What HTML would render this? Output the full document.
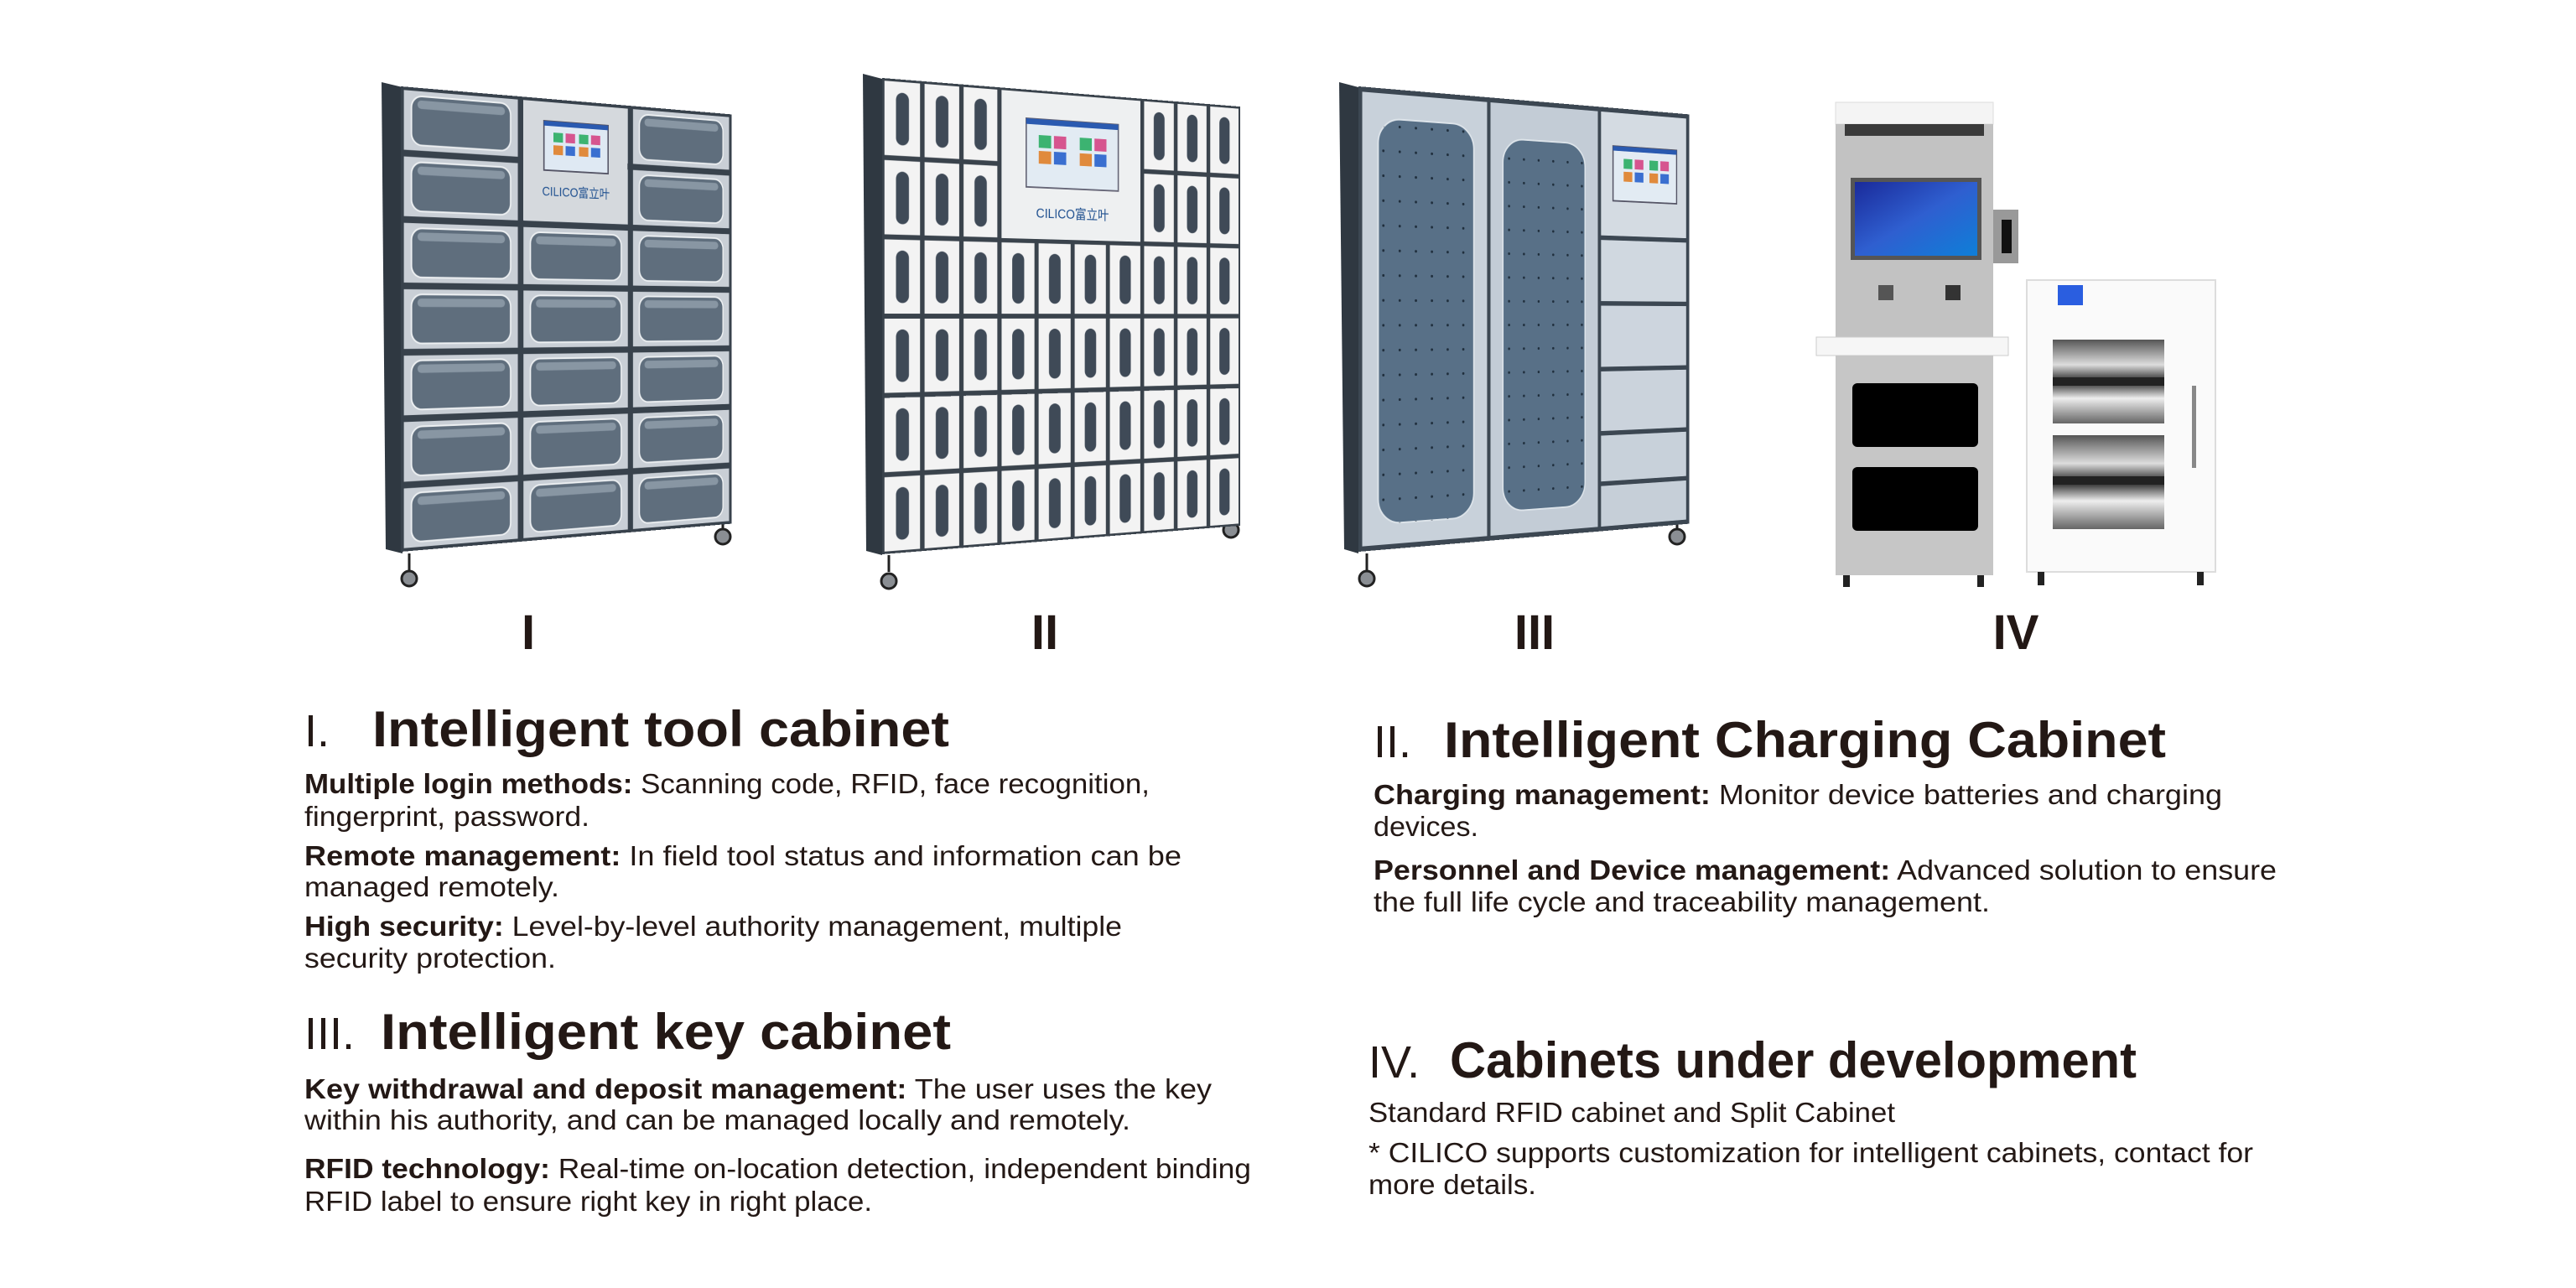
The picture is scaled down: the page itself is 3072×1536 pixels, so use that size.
<!DOCTYPE html>
<html><head><meta charset="utf-8">
<style>
html,body{margin:0;padding:0;background:#fff;}
body{width:3072px;height:1536px;position:relative;overflow:hidden;}
.cab{position:absolute;transform-origin:0 50%;}
svg text{font-family:"Liberation Sans","Noto Sans CJK SC",sans-serif;fill:#231815;}
</style></head><body>

<svg width="3072" height="1536" style="position:absolute;left:0;top:0" xmlns="http://www.w3.org/2000/svg">
<defs>
<linearGradient id="noise" x1="0" y1="0" x2="0" y2="1">
<stop offset="0" stop-color="#555"/><stop offset=".3" stop-color="#ddd"/><stop offset=".5" stop-color="#222"/><stop offset=".7" stop-color="#eee"/><stop offset="1" stop-color="#666"/>
</linearGradient>
<linearGradient id="scr" x1="0" y1="0" x2="1" y2="1">
<stop offset="0" stop-color="#1a2a9a"/><stop offset=".5" stop-color="#2f5fd0"/><stop offset="1" stop-color="#0e7fd8"/>
</linearGradient>
</defs>
<polygon points="455,98 480,104 480,660 460,655" fill="#2f3841"/>
<polygon points="1029,88 1052,94 1052,662 1033,657" fill="#2f3841"/>
<polygon points="1597,98 1620,104 1620,660 1603,655" fill="#2f3841"/>
<g fill="#8a8e93" stroke="#222" stroke-width="3">
<line x1="488" y1="660" x2="488" y2="680"/><circle cx="488" cy="690" r="9"/>
<line x1="862" y1="625" x2="862" y2="632"/><circle cx="862" cy="640" r="9"/>
<line x1="1060" y1="662" x2="1060" y2="682"/><circle cx="1060" cy="693" r="9"/>
<line x1="1468" y1="622" x2="1468" y2="625"/><circle cx="1468" cy="632" r="9"/>
<line x1="1630" y1="660" x2="1630" y2="680"/><circle cx="1630" cy="690" r="9"/>
<line x1="2000" y1="625" x2="2000" y2="632"/><circle cx="2000" cy="640" r="9"/>
</g>

<rect x="2189" y="122" width="188" height="26" fill="#f4f4f4" stroke="#ddd"/>
<rect x="2189" y="148" width="188" height="256" fill="#c2c2c2"/>
<rect x="2200" y="148" width="166" height="14" fill="#3a3a3a"/>
<rect x="2207" y="212" width="156" height="98" fill="#555"/>
<rect x="2212" y="217" width="146" height="88" fill="url(#scr)"/>
<rect x="2240" y="340" width="18" height="18" fill="#555"/>
<rect x="2320" y="340" width="18" height="18" fill="#333"/>
<rect x="2377" y="250" width="30" height="64" fill="#999"/>
<rect x="2387" y="262" width="12" height="40" fill="#111"/>
<rect x="2166" y="402" width="229" height="22" fill="#f6f6f6" stroke="#ccc"/>
<rect x="2189" y="424" width="188" height="262" fill="#c6c6c6"/>
<rect x="2209" y="457" width="150" height="76" rx="6" fill="#000"/>
<rect x="2209" y="557" width="150" height="76" rx="6" fill="#000"/>
<g fill="#222"><rect x="2198" y="686" width="8" height="14"/><rect x="2358" y="686" width="8" height="14"/></g>
<rect x="2417" y="334" width="225" height="348" fill="#fafafa" stroke="#ddd" stroke-width="2"/>
<rect x="2454" y="340" width="30" height="24" fill="#2a5ee0"/>
<rect x="2448" y="405" width="133" height="100" fill="url(#noise)"/>
<rect x="2448" y="450" width="133" height="10" fill="#222"/>
<rect x="2448" y="519" width="133" height="112" fill="url(#noise)"/>
<rect x="2448" y="568" width="133" height="10" fill="#222"/>
<rect x="2614" y="460" width="5" height="98" fill="#888"/>
<g fill="#222"><rect x="2430" y="682" width="8" height="16"/><rect x="2620" y="682" width="8" height="16"/></g>

<g font-size="58" font-weight="bold" text-anchor="middle">
<text x="630" y="774">I</text>
<text x="1246" y="774">II</text>
<text x="1830" y="774">III</text>
<text x="2404" y="774">IV</text>
</g>

<text x="363" y="890" font-size="54">I.</text>
<text x="444" y="890" font-size="60" font-weight="bold" textLength="688" lengthAdjust="spacingAndGlyphs">Intelligent tool cabinet</text>
<g font-size="33">
<text x="363" y="946" textLength="1008" lengthAdjust="spacingAndGlyphs"><tspan font-weight="bold">Multiple login methods:</tspan> Scanning code, RFID, face recognition,</text>
<text x="363" y="985" textLength="340" lengthAdjust="spacingAndGlyphs">fingerprint, password.</text>
<text x="363" y="1032" textLength="1046" lengthAdjust="spacingAndGlyphs"><tspan font-weight="bold">Remote management:</tspan> In field tool status and information can be</text>
<text x="363" y="1069" textLength="304" lengthAdjust="spacingAndGlyphs">managed remotely.</text>
<text x="363" y="1116" textLength="975" lengthAdjust="spacingAndGlyphs"><tspan font-weight="bold">High security:</tspan> Level-by-level authority management, multiple</text>
<text x="363" y="1154" textLength="300" lengthAdjust="spacingAndGlyphs">security protection.</text>
</g>

<text x="363" y="1251" font-size="54">III.</text>
<text x="454" y="1251" font-size="60" font-weight="bold" textLength="680" lengthAdjust="spacingAndGlyphs">Intelligent key cabinet</text>
<g font-size="33">
<text x="363" y="1310" textLength="1082" lengthAdjust="spacingAndGlyphs"><tspan font-weight="bold">Key withdrawal and deposit management:</tspan> The user uses the key</text>
<text x="363" y="1347" textLength="985" lengthAdjust="spacingAndGlyphs">within his authority, and can be managed locally and remotely.</text>
<text x="363" y="1405" textLength="1129" lengthAdjust="spacingAndGlyphs"><tspan font-weight="bold">RFID technology:</tspan> Real-time on-location detection, independent binding</text>
<text x="363" y="1444" textLength="677" lengthAdjust="spacingAndGlyphs">RFID label to ensure right key in right place.</text>
</g>

<text x="1638" y="903" font-size="54">II.</text>
<text x="1722" y="903" font-size="60" font-weight="bold" textLength="861" lengthAdjust="spacingAndGlyphs">Intelligent Charging Cabinet</text>
<g font-size="33">
<text x="1638" y="959" textLength="1012" lengthAdjust="spacingAndGlyphs"><tspan font-weight="bold">Charging management:</tspan> Monitor device batteries and charging</text>
<text x="1638" y="997" textLength="125" lengthAdjust="spacingAndGlyphs">devices.</text>
<text x="1638" y="1049" textLength="1077" lengthAdjust="spacingAndGlyphs"><tspan font-weight="bold">Personnel and Device management:</tspan> Advanced solution to ensure</text>
<text x="1638" y="1087" textLength="735" lengthAdjust="spacingAndGlyphs">the full life cycle and traceability management.</text>
</g>

<text x="1632" y="1285" font-size="54">IV.</text>
<text x="1729" y="1285" font-size="60" font-weight="bold" textLength="819" lengthAdjust="spacingAndGlyphs">Cabinets under development</text>
<g font-size="33">
<text x="1632" y="1338" textLength="628" lengthAdjust="spacingAndGlyphs">Standard RFID cabinet and Split Cabinet</text>
<text x="1632" y="1386" textLength="1055" lengthAdjust="spacingAndGlyphs">* CILICO supports customization for intelligent cabinets, contact for</text>
<text x="1632" y="1424" textLength="200" lengthAdjust="spacingAndGlyphs">more details.</text>
</g>
</svg>

<div class="cab" style="left:478px;top:103px;width:493px;height:555px;transform:perspective(1500px) rotateY(24.6deg);">
<svg width="493" height="555" xmlns="http://www.w3.org/2000/svg">
<defs>
<pattern id="c1" x="0" y="0" width="164.33" height="79.29" patternUnits="userSpaceOnUse">
<rect x="4" y="4" width="156.3" height="71.3" fill="#c9cfd6"/>
<rect x="14" y="10" width="136" height="59" rx="14" fill="#5f6e7d" stroke="#eef1f3" stroke-width="2"/>
<rect x="22" y="15" width="120" height="10" rx="5" fill="#8896a3"/>
</pattern>
</defs>
<rect width="493" height="555" fill="#38424c"/>
<rect width="493" height="555" fill="url(#c1)"/>
<rect x="168" y="4" width="156" height="150" fill="#d5d9dd"/>
<rect x="198" y="28" width="96" height="62" fill="#dfe9f3" stroke="#556" stroke-width="2"/>
<rect x="198" y="28" width="96" height="6" fill="#2a5ab0"/>
<g><rect x="212" y="42" width="14" height="12" fill="#3cb371"/><rect x="230" y="42" width="14" height="12" fill="#d6558f"/><rect x="250" y="42" width="14" height="12" fill="#3cb371"/><rect x="268" y="42" width="14" height="12" fill="#d6558f"/>
<rect x="212" y="58" width="14" height="12" fill="#e08a3c"/><rect x="230" y="58" width="14" height="12" fill="#3a6fd0"/><rect x="250" y="58" width="14" height="12" fill="#e08a3c"/><rect x="268" y="58" width="14" height="12" fill="#3a6fd0"/></g>
<text x="246" y="122" font-size="16" text-anchor="middle" style="fill:#1e4f8f">CILICO富立叶</text>
</svg></div>

<div class="cab" style="left:1052px;top:93px;width:527px;height:568px;transform:perspective(1500px) rotateY(22.9deg);">
<svg width="527" height="568" xmlns="http://www.w3.org/2000/svg">
<defs>
<pattern id="c2" x="0" y="0" width="52.7" height="94.67" patternUnits="userSpaceOnUse">
<rect x="3" y="3" width="46.7" height="88.67" fill="#f3f3f3"/>
<rect x="18" y="16" width="17" height="63" rx="8.5" fill="#3f4a57"/>
</pattern>
</defs>
<rect width="527" height="568" fill="#3a434c"/>
<rect width="527" height="568" fill="url(#c2)"/>
<rect x="161" y="3" width="205" height="184" fill="#eef0f1"/>
<rect x="196" y="36" width="136" height="86" fill="#e2ebf3" stroke="#667" stroke-width="2"/>
<rect x="196" y="36" width="136" height="7" fill="#2a5ab0"/>
<g><rect x="214" y="56" width="18" height="16" fill="#3cb371"/><rect x="236" y="56" width="18" height="16" fill="#d6558f"/><rect x="274" y="56" width="18" height="16" fill="#3cb371"/><rect x="296" y="56" width="18" height="16" fill="#d6558f"/>
<rect x="214" y="76" width="18" height="16" fill="#e08a3c"/><rect x="236" y="76" width="18" height="16" fill="#3a6fd0"/><rect x="274" y="76" width="18" height="16" fill="#e08a3c"/><rect x="296" y="76" width="18" height="16" fill="#3a6fd0"/></g>
<text x="264" y="160" font-size="17" text-anchor="middle" style="fill:#1e4f8f">CILICO富立叶</text>
</svg></div>

<div class="cab" style="left:1620px;top:103px;width:493px;height:555px;transform:perspective(1500px) rotateY(24.6deg);">
<svg width="493" height="555" xmlns="http://www.w3.org/2000/svg">
<defs>
<pattern id="dots" x="0" y="0" width="22" height="30" patternUnits="userSpaceOnUse">
<circle cx="11" cy="15" r="1.6" fill="#1f2e3c"/>
</pattern>
</defs>
<rect width="493" height="555" fill="#3c4752"/>
<rect x="5" y="6" width="172" height="543" fill="#c8d1da"/>
<rect x="182" y="6" width="162" height="543" fill="#c3ccd6"/>
<rect x="26" y="36" width="132" height="488" rx="30" fill="#587087" stroke="#dde4ea" stroke-width="2"/>
<rect x="26" y="36" width="132" height="488" rx="30" fill="url(#dots)"/>
<rect x="200" y="50" width="124" height="470" rx="30" fill="#587087" stroke="#dde4ea" stroke-width="2"/>
<rect x="200" y="50" width="124" height="470" rx="30" fill="url(#dots)"/>
<rect x="349" y="6" width="139" height="162" fill="#d4dbe2"/>
<rect x="368" y="50" width="104" height="72" fill="#e2ebf3" stroke="#556" stroke-width="2"/>
<rect x="368" y="50" width="104" height="6" fill="#2a5ab0"/>
<g><rect x="385" y="66" width="14" height="13" fill="#3cb371"/><rect x="403" y="66" width="14" height="13" fill="#d6558f"/><rect x="427" y="66" width="14" height="13" fill="#3cb371"/><rect x="445" y="66" width="14" height="13" fill="#d6558f"/>
<rect x="385" y="83" width="14" height="13" fill="#e08a3c"/><rect x="403" y="83" width="14" height="13" fill="#3a6fd0"/><rect x="427" y="83" width="14" height="13" fill="#e08a3c"/><rect x="445" y="83" width="14" height="13" fill="#3a6fd0"/></g>
<rect x="349" y="174" width="139" height="80" fill="#d0d8e0"/>
<rect x="349" y="260" width="139" height="80" fill="#cdd5de"/>
<rect x="349" y="346" width="139" height="78" fill="#cbd3dc"/>
<rect x="349" y="430" width="139" height="60" fill="#c8d1da"/>
<rect x="349" y="496" width="139" height="53" fill="#c6cfd8"/>
</svg></div>

</body></html>
